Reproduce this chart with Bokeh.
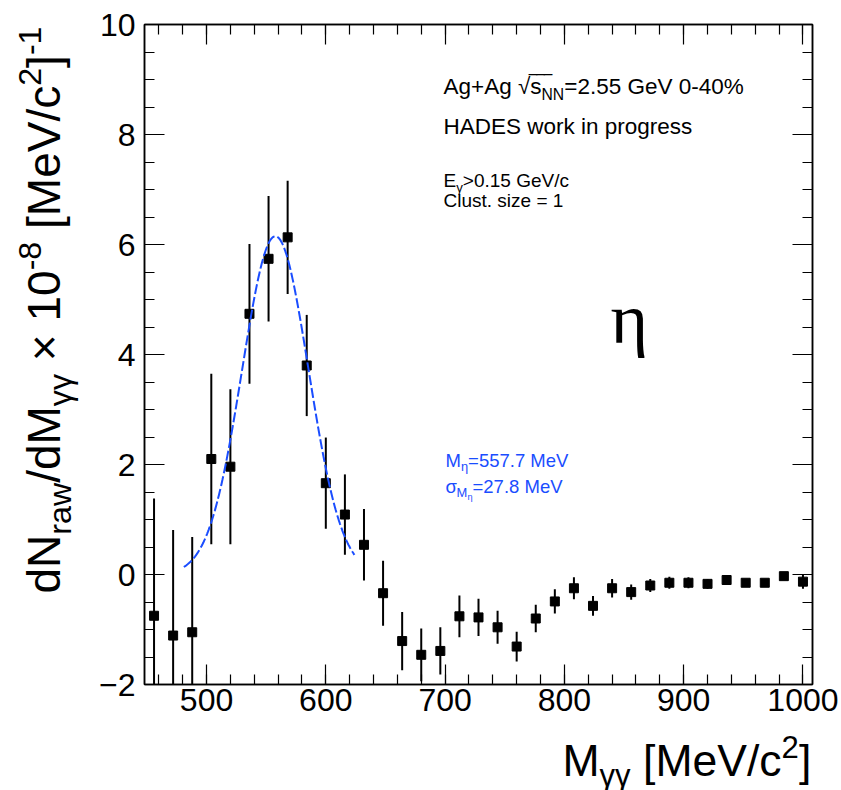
import math
import numpy as np
from bokeh.plotting import figure
from bokeh.layouts import row, column
from bokeh.models import Label, LinearAxis, FixedTicker, Range1d, ColumnDataSource
from bokeh.embed import file_html
from bokeh.resources import INLINE

# ---------------- data ----------------
mass_centers = [456, 472, 488, 504, 520, 536, 552, 568, 584, 600,
                616, 632, 648, 664, 680, 696, 712, 728, 744, 760,
                776, 792, 808, 824, 840, 856, 872, 888, 904, 920,
                936, 952, 968, 984, 1000]
yields = [-0.75, -1.11, -1.05, 2.10, 1.96, 4.74, 5.74, 6.13, 3.80, 1.66,
          1.09, 0.54, -0.34, -1.21, -1.46, -1.39, -0.76, -0.78, -0.96, -1.31,
          -0.80, -0.49, -0.25, -0.57, -0.25, -0.32, -0.20, -0.15, -0.15, -0.17,
          -0.10, -0.15, -0.15, -0.03, -0.13]
errors = [2.13, 1.92, 1.73, 1.55, 1.41, 1.27, 1.14, 1.03, 0.92, 0.83,
          0.73, 0.65, 0.59, 0.53, 0.48, 0.43, 0.38, 0.34, 0.30, 0.27,
          0.25, 0.22, 0.20, 0.18, 0.17, 0.14, 0.12, 0.11, 0.10, 0.09,
          0.07, 0.06, 0.06, 0.06, 0.13]

# Gaussian fit parameters (shown on the chart)
fit_mean = 557.7
fit_sigma = 27.8
fit_amp = 6.15
fit_xmin = 481.0
fit_xmax = 624.0

x_tick_values = [500, 600, 700, 800, 900, 1000]
y_tick_values = [-2, 0, 2, 4, 6, 8, 10]
y_tick_labels = {-2: "\u22122"}

X_MIN, X_MAX = 448, 1008
Y_MIN, Y_MAX = -2, 10

# ---------------- layout (canvas pixels) ----------------
TOTAL_W, TOTAL_H = 841, 790
LEFT_W = 88            # width of the y-title strip
BOT_Y = 728            # top of the x-title strip
FR_L, FR_R, FR_T, FR_B = 144, 812, 24, 684
MAIN_W = TOTAL_W - LEFT_W
MAIN_H = BOT_Y


def X(px):
    return X_MIN + (px - FR_L) * (X_MAX - X_MIN) / (FR_R - FR_L)


def Y(py):
    return Y_MAX - (py - FR_T) * (Y_MAX - Y_MIN) / (FR_B - FR_T)


p = figure(width=MAIN_W, height=MAIN_H,
           x_range=Range1d(X_MIN, X_MAX), y_range=Range1d(Y_MIN, Y_MAX),
           output_backend="svg", toolbar_location=None,
           min_border_left=FR_L - LEFT_W, min_border_right=TOTAL_W - FR_R,
           min_border_top=FR_T, min_border_bottom=MAIN_H - FR_B)
p.background_fill_color = "white"
p.border_fill_color = "white"
p.grid.visible = False
p.outline_line_color = "black"
p.outline_line_width = 1.5

x_minor = list(np.arange(460, 1008, 20))
y_minor = list(np.arange(-2, 10.01, 0.5))


def style_axis(ax, ticks, show_labels):
    ax.axis_line_width = 1.5
    ax.axis_line_color = "black"
    ax.major_tick_in = 20
    ax.major_tick_out = 0
    ax.minor_tick_in = 10
    ax.minor_tick_out = 0
    ax.major_tick_line_width = 1.2
    ax.minor_tick_line_width = 1.2
    ax.major_tick_line_color = "black"
    ax.minor_tick_line_color = "black"
    ax.major_label_text_font = "Liberation Sans"
    ax.major_label_text_color = "black"
    ax.major_label_text_font_size = "32px"
    if not show_labels:
        ax.major_label_overrides = {t: "" for t in ticks}
        ax.major_label_standoff = 0


p.xaxis.ticker = FixedTicker(ticks=x_tick_values, minor_ticks=x_minor)
p.yaxis.ticker = FixedTicker(ticks=y_tick_values, minor_ticks=y_minor)
style_axis(p.xaxis[0], x_tick_values, True)
style_axis(p.yaxis[0], y_tick_values, True)
p.yaxis.major_label_overrides = y_tick_labels
p.xaxis.major_label_standoff = 4
p.yaxis.major_label_standoff = 9

ax_r = LinearAxis(ticker=FixedTicker(ticks=y_tick_values, minor_ticks=y_minor))
style_axis(ax_r, y_tick_values, False)
p.add_layout(ax_r, "right")
ax_t = LinearAxis(ticker=FixedTicker(ticks=x_tick_values, minor_ticks=x_minor))
style_axis(ax_t, x_tick_values, False)
p.add_layout(ax_t, "above")

# ---------------- data marks ----------------
lo = [v - e for v, e in zip(yields, errors)]
hi = [v + e for v, e in zip(yields, errors)]
src = ColumnDataSource(dict(x=mass_centers, y=yields, lo=lo, hi=hi))
p.segment(x0="x", x1="x", y0="lo", y1="hi", source=src, line_color="black", line_width=2)
p.scatter(x="x", y="y", source=src, marker="square", size=9,
          fill_color="black", line_color="black")

BLUE = "#1a4dff"
fx = np.linspace(fit_xmin, fit_xmax, 200)
fy = fit_amp * np.exp(-0.5 * ((fx - fit_mean) / fit_sigma) ** 2)
p.line(fx, fy, line_color=BLUE, line_width=2, line_dash="10 3")

# ---------------- strips for the axis titles ----------------
def strip(w, h, xr, yr, bl=0, br=0):
    f = figure(width=w, height=h, x_range=Range1d(*xr), y_range=Range1d(*yr),
               x_axis_type=None, y_axis_type=None,
               output_backend="svg", toolbar_location=None, min_border=0,
               min_border_left=bl, min_border_right=br, min_border_top=0,
               min_border_bottom=0)
    f.outline_line_color = None
    f.background_fill_color = "white"
    f.border_fill_color = "white"
    return f


yl = strip(LEFT_W, TOTAL_H, (0, LEFT_W), (TOTAL_H, 0))
# the x-title strip shares the frame columns of the main plot
xl = strip(MAIN_W, TOTAL_H - BOT_Y, (FR_L, FR_R), (TOTAL_H, BOT_Y),
           bl=FR_L - LEFT_W, br=TOTAL_W - FR_R)

# ---------------- rich text helper ----------------
W = {' ': 278, '%': 889, '+': 584, '-': 333, '.': 278, '/': 278, '=': 584, '>': 584,
     'A': 667, 'C': 722, 'D': 722, 'E': 667, 'G': 778, 'H': 722, 'M': 833, 'N': 722,
     'S': 667, 'V': 667, '[': 278, ']': 278, 'a': 556, 'c': 500, 'd': 556, 'e': 556,
     'g': 556, 'i': 222, 'k': 500, 'l': 222, 'n': 556, 'o': 556, 'p': 556, 'r': 333,
     's': 500, 't': 278, 'u': 556, 'w': 722, 'z': 500, '\u00d7': 584, '\u03b3': 500,
     '\u03b7': 556, '\u03c3': 600, '\u221a': 549, '\u203e': 500}
for d in "0123456789":
    W[d] = 556

STYLE = {"n": (1.0, 0.0), "sub": (0.7, -0.22), "sup": (0.7, 0.42), "subsub": (0.5, -0.40)}
BASE_CORR = {"Liberation Sans": 0.40, "Liberation Serif": 0.37}


def text_width(s, f):
    return sum(W.get(ch, 556) for ch in s) * f / 1000.0


def ident(v):
    return v


def rich(fig, segs, x0, y0, fs, color="black", font="Liberation Sans", vertical=False,
         fx_=ident, fy_=ident):
    pos = 0.0
    corr = BASE_CORR.get(font, 0.4)
    for txt, st in segs:
        scale, shift = STYLE[st]
        f = fs * scale
        stripped = txt.lstrip(" ")
        pos += text_width(txt[:len(txt) - len(stripped)], f)
        up = shift * fs + corr * f
        if vertical:
            px, py = x0 - up, y0 - pos
        else:
            px, py = x0 + pos, y0 - up
        fig.add_layout(Label(x=fx_(px), y=fy_(py), text=stripped,
                             angle=math.pi / 2 if vertical else 0.0,
                             text_font_size=f"{f:.1f}px", text_font=font,
                             text_color=color, text_baseline="alphabetic",
                             text_align="left"))
        pos += text_width(stripped, f)
    return pos


# axis titles (in canvas pixels)
rich(xl, [("M", "n"), ("\u03b3\u03b3", "sub"), (" [MeV/c", "n"), ("2", "sup"), ("]", "n")],
     562, 778, 44.5)
rich(yl, [("dN", "n"), ("raw", "sub"), ("/dM", "n"), ("\u03b3\u03b3", "sub"),
          (" \u00d7 10", "n"), ("-8", "sup"), (" [MeV/c", "n"), ("2", "sup"),
          ("]", "n"), ("-1", "sup")],
     62, 593, 46, vertical=True)

# annotations inside the frame
w1 = rich(p, [("Ag+Ag ", "n"), ("\u221a", "n")], 443, 95, 22.5, fx_=X, fy_=Y)
rich(p, [("\u203e\u203e\u203e", "n")], 443 + w1 - 1, 93, 22.5, fx_=X, fy_=Y)
rich(p, [("s", "n"), ("NN", "sub"), ("=2.55 GeV 0-40%", "n")], 443 + w1, 95, 22.5,
     fx_=X, fy_=Y)
rich(p, [("HADES work in progress", "n")], 443, 135, 22.5, fx_=X, fy_=Y)
rich(p, [("E", "n"), ("\u03b3", "sub"), (">0.15 GeV/c", "n")], 443, 188, 19, fx_=X, fy_=Y)
rich(p, [("Clust. size = 1", "n")], 443, 208, 19, fx_=X, fy_=Y)
rich(p, [("M", "n"), ("\u03b7", "sub"), ("=557.7 MeV", "n")], 445, 467, 18.5,
     color=BLUE, fx_=X, fy_=Y)
rich(p, [("\u03c3", "n"), ("M", "sub"), ("\u03b7", "subsub"), ("=27.8 MeV", "n")],
     445, 493, 18.5, color=BLUE, fx_=X, fy_=Y)
rich(p, [("\u03b7", "n")], 610, 345, 72, font="Liberation Serif", fx_=X, fy_=Y)

layout = row(yl, column(p, xl, spacing=0), spacing=0)
open("out.html", "w").write(file_html(layout, INLINE))
